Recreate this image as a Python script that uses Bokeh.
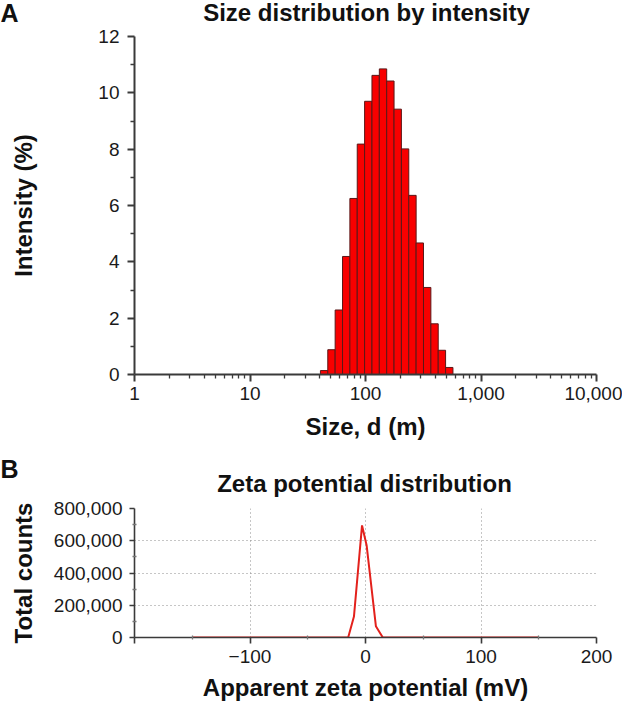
from bokeh.plotting import figure
from bokeh.layouts import column
from bokeh.models import FixedTicker, Label, Range1d
from bokeh.embed import file_html
from bokeh.resources import INLINE

# ---------------- Panel A: size distribution by intensity ----------------
size_nm = [43.82, 50.75, 58.77, 68.06, 78.82, 91.28, 105.7, 122.4, 141.8,
           164.2, 190.1, 220.2, 255.0, 295.3, 342.0, 396.1, 458.7, 531.2]
intensity_pct = [0.14, 0.88, 2.29, 4.19, 6.25, 8.18, 9.70, 10.62, 10.85,
                 10.42, 9.42, 8.01, 6.36, 4.67, 3.09, 1.80, 0.86, 0.25]
size_ticks = [1, 10, 100, 1000, 10000]
size_tick_labels = ["1", "10", "100", "1,000", "10,000"]
intensity_ticks = [0, 2, 4, 6, 8, 10, 12]
intensity_minor = [1, 3, 5, 7, 9, 11]

# ---------------- Panel B: zeta potential distribution ----------------
zeta_mv = [-150, -15, -10, -3, 1, 9, 15, 150]
zeta_counts = [0, 0, 130000, 695000, 570000, 70000, 0, 0]
zeta_ticks = [-200, -100, 0, 100, 200]
zeta_tick_labels = ["", "\u2212100", "0", "100", "200"]
zeta_minor = [-150, -50, 50, 150]
count_ticks = [0, 200000, 400000, 600000, 800000]
count_tick_labels = ["0", "200,000", "400,000", "600,000", "800,000"]
count_minor = [100000, 300000, 500000, 700000]

FONT = "Liberation Sans"
AXIS_COLOR = "#3a3a3a"
TEXT_COLOR = "#111111"
W = 622
BORDER_L = 134
BORDER_R = 26


def header(height, letter, title, letter_mid, title_mid, title_cx):
    """A strip that holds the panel letter and the panel title as text.
    letter_mid / title_mid: distance of the text middle from the strip top."""
    h = figure(width=W, height=height, x_range=Range1d(0, W),
               y_range=Range1d(0, height), x_axis_location=None,
               y_axis_location=None, output_backend="svg",
               toolbar_location=None, min_border=0, frame_align=False)
    h.outline_line_color = None
    h.grid.visible = False
    h.add_layout(Label(x=0, y=height - letter_mid, x_units="screen",
                       y_units="screen", text=letter, text_align="left",
                       text_baseline="middle", text_font=FONT,
                       text_font_size="25px", text_font_style="bold",
                       text_color=TEXT_COLOR))
    h.add_layout(Label(x=title_cx, y=height - title_mid, x_units="screen",
                       y_units="screen", text=title, text_align="center",
                       text_baseline="middle", text_font=FONT,
                       text_font_size="24px", text_font_style="bold",
                       text_color=TEXT_COLOR))
    return h


def style_axis(ax, line_w, tick_out, minor_in, minor_out, minor_color):
    ax.axis_line_color = AXIS_COLOR
    ax.axis_line_width = line_w
    ax.major_tick_line_color = AXIS_COLOR
    ax.major_tick_line_width = line_w
    ax.minor_tick_line_color = minor_color
    ax.minor_tick_line_width = 1.3
    ax.major_tick_in = 0
    ax.major_tick_out = tick_out
    ax.minor_tick_in = minor_in
    ax.minor_tick_out = minor_out
    ax.major_label_text_font = FONT
    ax.major_label_text_font_size = "19px"
    ax.major_label_text_color = "#1a1a1a"
    ax.axis_label_text_font = FONT
    ax.axis_label_text_font_size = "24px"
    ax.axis_label_text_font_style = "bold"
    ax.axis_label_text_color = TEXT_COLOR


# ---------- Panel A ----------
head_a = header(25, "A", "Size distribution by intensity", 12, 12, 366)

ratio = size_nm[1] / size_nm[0]
half = ratio ** 0.5
lefts = [s / half for s in size_nm]
rights = [s * half for s in size_nm]

p1 = figure(width=W, height=427, x_axis_type="log",
            x_range=Range1d(1, 10000), y_range=Range1d(0, 12),
            output_backend="svg", toolbar_location=None,
            min_border_left=BORDER_L, min_border_right=BORDER_R,
            min_border_top=11, min_border_bottom=78)
p1.outline_line_color = None
p1.xgrid.visible = False
p1.ygrid.visible = False

p1.quad(left=lefts, right=rights, bottom=0, top=intensity_pct,
        fill_color="#f80000", line_color="#5a1818", line_width=1)

minor_size = [m * 10 ** e for e in range(4) for m in range(2, 10)]
p1.xaxis.ticker = FixedTicker(ticks=size_ticks, minor_ticks=minor_size)
p1.xaxis.major_label_overrides = dict(zip(size_ticks, size_tick_labels))
p1.yaxis.ticker = FixedTicker(ticks=intensity_ticks, minor_ticks=intensity_minor)
for ax in (p1.xaxis[0], p1.yaxis[0]):
    style_axis(ax, 2, 7, 0, 4, AXIS_COLOR)

p1.xaxis.axis_label = "Size, d (m)"
p1.xaxis.major_label_standoff = 5
p1.xaxis.axis_label_standoff = 10
p1.yaxis.axis_label = "Intensity (%)"
p1.yaxis.major_label_standoff = 8
p1.yaxis.axis_label_standoff = 58

# ---------- Panel B ----------
head_b = header(45, "B", "Zeta potential distribution", 16, 31, 364)

p2 = figure(width=W, height=210,
            x_range=Range1d(-200, 200), y_range=Range1d(0, 800000),
            output_backend="svg", toolbar_location=None,
            min_border_left=BORDER_L, min_border_right=BORDER_R,
            min_border_top=11, min_border_bottom=70)
p2.outline_line_color = None

p2.line(zeta_mv, zeta_counts, line_color="#e3211c", line_width=2)

p2.xaxis.ticker = FixedTicker(ticks=zeta_ticks, minor_ticks=zeta_minor)
p2.xaxis.major_label_overrides = dict(zip(zeta_ticks, zeta_tick_labels))
p2.yaxis.ticker = FixedTicker(ticks=count_ticks, minor_ticks=count_minor)
p2.yaxis.major_label_overrides = dict(zip(count_ticks, count_tick_labels))

for g in (p2.xgrid[0], p2.ygrid[0]):
    g.grid_line_color = "#8c8c8c"
    g.grid_line_dash = "1 3"
    g.grid_line_width = 1

for ax in (p2.xaxis[0], p2.yaxis[0]):
    style_axis(ax, 1.6, 6, 2, 2, "#777777")
p2.yaxis.major_tick_out = 5

p2.xaxis.axis_label = "Apparent zeta potential (mV)"
p2.xaxis.major_label_standoff = 6
p2.xaxis.axis_label_standoff = 8
p2.yaxis.axis_label = "Total counts"
p2.yaxis.major_label_standoff = 7
p2.yaxis.axis_label_standoff = 14

layout = column(head_a, p1, head_b, p2, spacing=0)
open("out.html", "w").write(file_html(layout, INLINE, title="Size and zeta potential"))
